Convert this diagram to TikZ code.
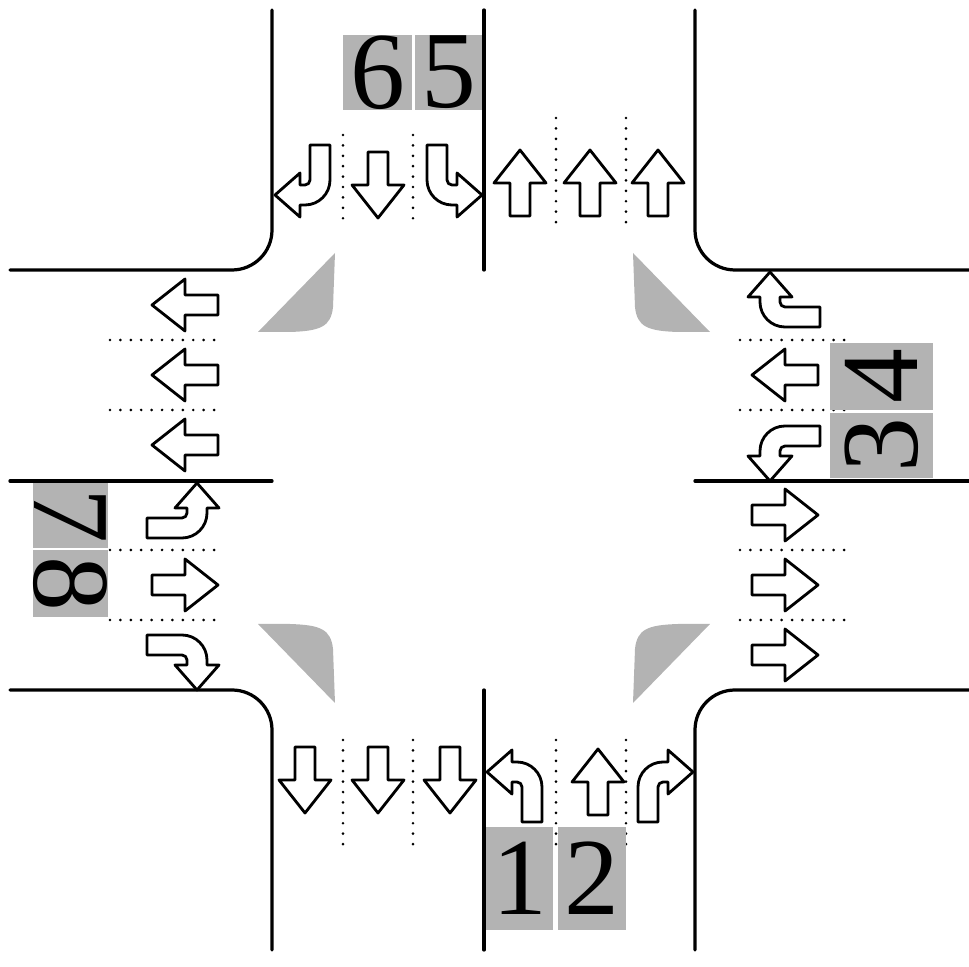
\documentclass[tikz,border=0pt]{standalone}
\usepackage{fontspec}
\setmainfont{Liberation Serif}
\begin{document}
\begin{tikzpicture}[x=0.025cm,y=0.025cm,
  road/.style={line width=2.3pt,line cap=round},
  lanedots/.style={line width=2.1pt,line cap=round,dash pattern=on 0pt off 7.4pt},
  arr/.style={draw,fill=white,line width=2pt,line join=round},
  digit/.style={font=\fontsize{78}{78}\selectfont}]
\definecolor{numgray}{HTML}{B3B3B3}
\useasboundingbox (0,0) rectangle (969,967);
\def\straight{(-10,-33) -- (10,-33) -- (10,0) -- (26,0) -- (0,33) -- (-26,0) -- (-10,0) -- cycle}
\def\turn{(-10,-30) -- (10,-30) -- (10,5) arc[start angle=0,end angle=90,radius=25] -- (-20,30) -- (-20,42) -- (-45,20) -- (-20,-2) -- (-20,10) -- (-15,10) arc[start angle=90,end angle=0,radius=5] -- cycle}
% corner islands
\fill[numgray] (335,714) -- (333,660) .. controls (331,640) and (320,636) .. (290,635) -- (258,635) -- cycle;
\fill[numgray] (633,714) -- (635,660) .. controls (637,640) and (648,636) .. (678,635) -- (710,635) -- cycle;
\fill[numgray] (335,264) -- (333,318) .. controls (331,338) and (320,342) .. (290,343) -- (258,343) -- cycle;
\fill[numgray] (633,264) -- (635,318) .. controls (637,338) and (648,342) .. (678,343) -- (710,343) -- cycle;
% curbs
\draw[road] (272,957) -- (272,737) arc[start angle=0,end angle=-90,radius=40] -- (10,697);
\draw[road] (695,957) -- (695,737) arc[start angle=180,end angle=270,radius=40] -- (975,697);
\draw[road] (10,277) -- (232,277) arc[start angle=90,end angle=0,radius=40] -- (272,17);
\draw[road] (975,277) -- (735,277) arc[start angle=90,end angle=180,radius=40] -- (695,17);
\draw[road] (484,957) -- (484,697);
\draw[road] (484,277) -- (484,17);
\draw[road] (10,486) -- (272,486);
\draw[road] (695,486) -- (975,486);
% lane dots
\foreach \x in {343,413} {\draw[lanedots] (\x,832) -- (\x,745); \draw[lanedots] (\x,227) -- (\x,117);}
\foreach \x in {556,626} {\draw[lanedots] (\x,849) -- (\x,742); \draw[lanedots] (\x,227) -- (\x,117);}
\foreach \y in {627,557,417,347} {\draw[lanedots] (110,\y) -- (220,\y); \draw[lanedots] (740,\y) -- (850,\y);}
% number boxes
\node[fill=numgray, inner sep=0pt, minimum width=69*0.025cm, minimum height=75*0.025cm, digit] (n6) at (377.5,894.5) {6};
\node[fill=numgray, inner sep=0pt, minimum width=67*0.025cm, minimum height=75*0.025cm, digit] (n5) at (448.5,894.5) {5};
\node[fill=numgray, inner sep=0pt, minimum width=67*0.025cm, minimum height=103*0.025cm, digit] (n1) at (519.5,88.5) {1};
\node[fill=numgray, inner sep=0pt, minimum width=68*0.025cm, minimum height=103*0.025cm, digit] (n2) at (592,88.5) {2};
\node[fill=numgray, inner sep=0pt, minimum width=103*0.025cm, minimum height=67*0.025cm] (n4b) at (881.5,590.5) {};
\node[digit, rotate=90] (n4) at (881.5,590.5) {4};
\node[fill=numgray, inner sep=0pt, minimum width=103*0.025cm, minimum height=65*0.025cm] (n3b) at (881.5,521.5) {};
\node[digit, rotate=90] (n3) at (881.5,521.5) {3};
\node[fill=numgray, inner sep=0pt, minimum width=75*0.025cm, minimum height=65*0.025cm] (n7b) at (70.5,451.5) {};
\node[digit, rotate=-90] (n7) at (70.5,451.5) {7};
\node[fill=numgray, inner sep=0pt, minimum width=75*0.025cm, minimum height=67*0.025cm] (n8b) at (70.5,383.5) {};
\node[digit, rotate=-90] (n8) at (70.5,383.5) {8};
% straight arrows
\foreach \ax/\ay/\r in {520/784/0,590/784/0,658/784/0,378/782/180,305/187/180,378/187/180,450/187/180,598/185/0,
  185/662/90,185/592/90,185/522/90,185/382/-90,785/592/90,785/452/-90,785/382/-90,785/312/-90}
  {\path[arr,shift={(\ax,\ay)},rotate=\r] \straight;}
% turn arrows
\path[arr,shift={(532,175)}] \turn;
\path[arr,shift={(648,175)},xscale=-1] \turn;
\path[arr,shift={(437,792)},rotate=180] \turn;
\path[arr,shift={(320,792)},rotate=180,xscale=-1] \turn;
\path[arr,shift={(177,439)},rotate=-90] \turn;
\path[arr,shift={(177,322)},rotate=-90,xscale=-1] \turn;
\path[arr,shift={(790,531)},rotate=90] \turn;
\path[arr,shift={(790,650)},rotate=90,xscale=-1] \turn;
\end{tikzpicture}
\end{document}
